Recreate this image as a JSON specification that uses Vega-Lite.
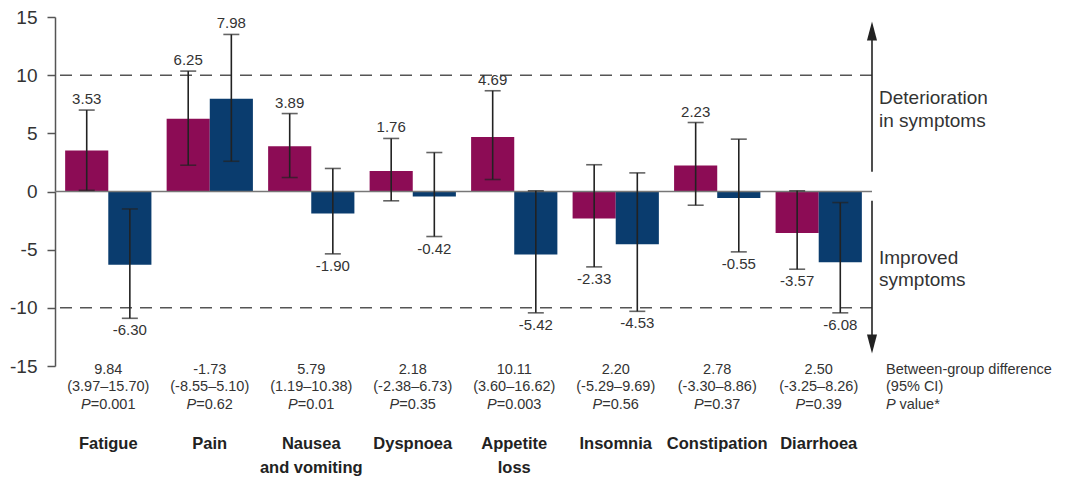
{
  "$schema": "https://vega.github.io/schema/vega-lite/v6.json",
  "width": 817,
  "height": 349,
  "padding": {"left": 9, "top": 8, "right": 5, "bottom": 0},
  "config": {
    "view": {"stroke": null},
    "font": "Liberation Sans",
    "locale": {"number": {"decimal": ".", "thousands": ",", "grouping": [3], "currency": ["$", ""], "minus": "-"}}
  },
  "datasets": {
    "bars": [
      {"cat": "Fatigue", "grp": "Group 1", "value": 3.53, "lo": 0.1, "hi": 7.0},
      {"cat": "Fatigue", "grp": "Group 2", "value": -6.30, "lo": -10.9, "hi": -1.5},
      {"cat": "Pain", "grp": "Group 1", "value": 6.25, "lo": 2.26, "hi": 10.35},
      {"cat": "Pain", "grp": "Group 2", "value": 7.98, "lo": 2.6, "hi": 13.5},
      {"cat": "Nausea and vomiting", "grp": "Group 1", "value": 3.89, "lo": 1.2, "hi": 6.7},
      {"cat": "Nausea and vomiting", "grp": "Group 2", "value": -1.90, "lo": -5.36, "hi": 1.98},
      {"cat": "Dyspnoea", "grp": "Group 1", "value": 1.76, "lo": -0.8, "hi": 4.56},
      {"cat": "Dyspnoea", "grp": "Group 2", "value": -0.42, "lo": -3.87, "hi": 3.35},
      {"cat": "Appetite loss", "grp": "Group 1", "value": 4.69, "lo": 1.03, "hi": 8.66},
      {"cat": "Appetite loss", "grp": "Group 2", "value": -5.42, "lo": -10.43, "hi": 0.06},
      {"cat": "Insomnia", "grp": "Group 1", "value": -2.33, "lo": -6.48, "hi": 2.3},
      {"cat": "Insomnia", "grp": "Group 2", "value": -4.53, "lo": -10.3, "hi": 1.6},
      {"cat": "Constipation", "grp": "Group 1", "value": 2.23, "lo": -1.18, "hi": 5.93},
      {"cat": "Constipation", "grp": "Group 2", "value": -0.55, "lo": -5.19, "hi": 4.5},
      {"cat": "Diarrhoea", "grp": "Group 1", "value": -3.57, "lo": -6.68, "hi": 0.06},
      {"cat": "Diarrhoea", "grp": "Group 2", "value": -6.08, "lo": -10.43, "hi": -0.95}
    ],
    "stats": [
      {"cat": "Fatigue", "name": "Fatigue", "diff": "9.84", "ci": "(3.97–15.70)", "p": "=0.001"},
      {"cat": "Pain", "name": "Pain", "diff": "-1.73", "ci": "(-8.55–5.10)", "p": "=0.62"},
      {"cat": "Nausea and vomiting", "name": "Nausea\nand vomiting", "diff": "5.79", "ci": "(1.19–10.38)", "p": "=0.01"},
      {"cat": "Dyspnoea", "name": "Dyspnoea", "diff": "2.18", "ci": "(-2.38–6.73)", "p": "=0.35"},
      {"cat": "Appetite loss", "name": "Appetite\nloss", "diff": "10.11", "ci": "(3.60–16.62)", "p": "=0.003"},
      {"cat": "Insomnia", "name": "Insomnia", "diff": "2.20", "ci": "(-5.29–9.69)", "p": "=0.56"},
      {"cat": "Constipation", "name": "Constipation", "diff": "2.78", "ci": "(-3.30–8.86)", "p": "=0.37"},
      {"cat": "Diarrhoea", "name": "Diarrhoea", "diff": "2.50", "ci": "(-3.25–8.26)", "p": "=0.39"}
    ]
  },
  "encoding": {
    "x": {
      "field": "cat", "type": "nominal", "sort": null,
      "scale": {"domain": ["Fatigue", "Pain", "Nausea and vomiting", "Dyspnoea", "Appetite loss", "Insomnia", "Constipation", "Diarrhoea"], "paddingInner": 0.15, "paddingOuter": 0.1},
      "axis": null
    }
  },
  "layer": [
    {
      "data": {"name": "bars"},
      "mark": {"type": "bar"},
      "encoding": {
        "xOffset": {"field": "grp", "type": "nominal", "scale": {"paddingInner": 0, "paddingOuter": 0}},
        "y": {
          "field": "value", "type": "quantitative",
          "scale": {"domain": [-15, 15], "nice": false},
          "axis": {
            "title": null, "values": [-15, -10, -5, 0, 5, 10, 15], "grid": false,
            "labelExpr": "'' + datum.value",
            "labelFont": "Liberation Sans", "labelFontSize": 19, "labelColor": "#333333",
            "labelPadding": 10, "tickSize": 8, "tickColor": "#555555", "tickWidth": 1.5,
            "domainColor": "#555555", "domainWidth": 1.5
          }
        },
        "color": {"field": "grp", "type": "nominal", "scale": {"domain": ["Group 1", "Group 2"], "range": ["#8C0C55", "#0A3C6E"]}, "legend": null}
      }
    },
    {
      "data": {"values": [{"level": 10}, {"level": -10}]},
      "mark": {"type": "rule", "color": "#555555", "strokeWidth": 1.5, "strokeDash": [12, 8]},
      "encoding": {"y": {"field": "level", "type": "quantitative"}, "x": null}
    },
    {
      "data": {"values": [{"level": 0}]},
      "mark": {"type": "rule", "color": "#777777", "strokeWidth": 1.5},
      "encoding": {"y": {"field": "level", "type": "quantitative"}, "x": null}
    },
    {
      "data": {"name": "bars"},
      "mark": {"type": "rule", "color": "#222222", "strokeWidth": 1.6},
      "encoding": {
        "xOffset": {"field": "grp", "type": "nominal"},
        "y": {"field": "lo", "type": "quantitative"},
        "y2": {"field": "hi"}
      }
    },
    {
      "data": {"name": "bars"},
      "mark": {"type": "tick", "color": "#222222", "size": 16, "thickness": 1.6},
      "encoding": {
        "xOffset": {"field": "grp", "type": "nominal"},
        "y": {"field": "lo", "type": "quantitative"}
      }
    },
    {
      "data": {"name": "bars"},
      "mark": {"type": "tick", "color": "#222222", "size": 16, "thickness": 1.6},
      "encoding": {
        "xOffset": {"field": "grp", "type": "nominal"},
        "y": {"field": "hi", "type": "quantitative"}
      }
    },
    {
      "data": {"name": "bars"},
      "transform": [{"filter": "datum.value > 0"}],
      "mark": {"type": "text", "font": "Liberation Sans", "fontSize": 15, "color": "#333333", "baseline": "middle", "dy": -11},
      "encoding": {
        "xOffset": {"field": "grp", "type": "nominal"},
        "y": {"field": "hi", "type": "quantitative"},
        "text": {"field": "value", "type": "quantitative", "format": ".2f"}
      }
    },
    {
      "data": {"name": "bars"},
      "transform": [{"filter": "datum.value < 0"}],
      "mark": {"type": "text", "font": "Liberation Sans", "fontSize": 15, "color": "#333333", "baseline": "middle", "dy": 12},
      "encoding": {
        "xOffset": {"field": "grp", "type": "nominal"},
        "y": {"field": "lo", "type": "quantitative"},
        "text": {"field": "value", "type": "quantitative", "format": ".2f"}
      }
    },
    {
      "data": {"values": [{"part": "up", "from": 1.7, "to": 13.3}, {"part": "down", "from": -0.8, "to": -12.6}]},
      "mark": {"type": "rule", "color": "#222222", "strokeWidth": 1.6},
      "encoding": {
        "x": {"value": "width"},
        "y": {"field": "from", "type": "quantitative"},
        "y2": {"field": "to"}
      }
    },
    {
      "data": {"values": [{"part": "up", "at": 13.8}]},
      "mark": {"type": "point", "shape": "M0,-1L0.53,1L-0.53,1Z", "size": 361, "filled": true, "color": "#222222", "opacity": 1},
      "encoding": {"x": {"value": "width"}, "y": {"field": "at", "type": "quantitative"}}
    },
    {
      "data": {"values": [{"part": "down", "at": -13.1}]},
      "mark": {"type": "point", "shape": "M0,1L0.53,-1L-0.53,-1Z", "size": 361, "filled": true, "color": "#222222", "opacity": 1},
      "encoding": {"x": {"value": "width"}, "y": {"field": "at", "type": "quantitative"}}
    },
    {
      "data": {"values": [{"label": "Deterioration\nin symptoms", "at": 8.77}, {"label": "Improved\nsymptoms", "at": -4.9}]},
      "mark": {"type": "text", "font": "Liberation Sans", "fontSize": 19, "color": "#333333", "align": "left", "baseline": "top", "lineBreak": "\n", "lineHeight": 22.5, "dx": 7},
      "encoding": {"x": {"value": "width"}, "y": {"field": "at", "type": "quantitative"}, "text": {"field": "label"}}
    },
    {
      "data": {"name": "stats"},
      "mark": {"type": "text", "font": "Liberation Sans", "fontSize": 14.5, "color": "#333333", "baseline": "top", "dy": -3.5},
      "encoding": {"y": {"datum": -15}, "text": {"field": "diff"}}
    },
    {
      "data": {"name": "stats"},
      "mark": {"type": "text", "font": "Liberation Sans", "fontSize": 14.5, "color": "#333333", "baseline": "top", "dy": 14},
      "encoding": {"y": {"datum": -15}, "text": {"field": "ci"}}
    },
    {
      "data": {"name": "stats"},
      "mark": {"type": "text", "font": "Liberation Sans", "fontSize": 14.5, "color": "#333333", "baseline": "top", "dy": 31.5, "dx": 4.8},
      "encoding": {"y": {"datum": -15}, "text": {"field": "p"}}
    },
    {
      "data": {"name": "stats"},
      "transform": [{"filter": "length(datum.p) == 6"}],
      "mark": {"type": "text", "font": "Liberation Sans", "fontSize": 14.5, "fontStyle": "italic", "color": "#333333", "baseline": "top", "align": "right", "dy": 31.5, "dx": -17.6},
      "encoding": {"y": {"datum": -15}, "text": {"value": "P"}}
    },
    {
      "data": {"name": "stats"},
      "transform": [{"filter": "length(datum.p) == 5"}],
      "mark": {"type": "text", "font": "Liberation Sans", "fontSize": 14.5, "fontStyle": "italic", "color": "#333333", "baseline": "top", "align": "right", "dy": 31.5, "dx": -13.5},
      "encoding": {"y": {"datum": -15}, "text": {"value": "P"}}
    },
    {
      "data": {"name": "stats"},
      "mark": {"type": "text", "font": "Liberation Sans", "fontSize": 16.5, "fontWeight": "bold", "color": "#222222", "baseline": "top", "lineBreak": "\n", "lineHeight": 23.5, "dy": 70},
      "encoding": {"y": {"datum": -15}, "text": {"field": "name"}}
    },
    {
      "data": {"values": [{"label": "Between-group difference\n(95% CI)"}]},
      "mark": {"type": "text", "font": "Liberation Sans", "fontSize": 14.5, "color": "#333333", "align": "left", "baseline": "top", "lineBreak": "\n", "lineHeight": 17.5, "dx": 14, "dy": -3.5},
      "encoding": {"x": {"value": "width"}, "y": {"datum": -15}, "text": {"field": "label"}}
    },
    {
      "data": {"values": [{"label": "P"}]},
      "mark": {"type": "text", "font": "Liberation Sans", "fontSize": 14.5, "fontStyle": "italic", "color": "#333333", "align": "left", "baseline": "top", "dx": 14, "dy": 31.5},
      "encoding": {"x": {"value": "width"}, "y": {"datum": -15}, "text": {"field": "label"}}
    },
    {
      "data": {"values": [{"label": "value*"}]},
      "mark": {"type": "text", "font": "Liberation Sans", "fontSize": 14.5, "color": "#333333", "align": "left", "baseline": "top", "dx": 27.5, "dy": 31.5},
      "encoding": {"x": {"value": "width"}, "y": {"datum": -15}, "text": {"field": "label"}}
    }
  ]
}
